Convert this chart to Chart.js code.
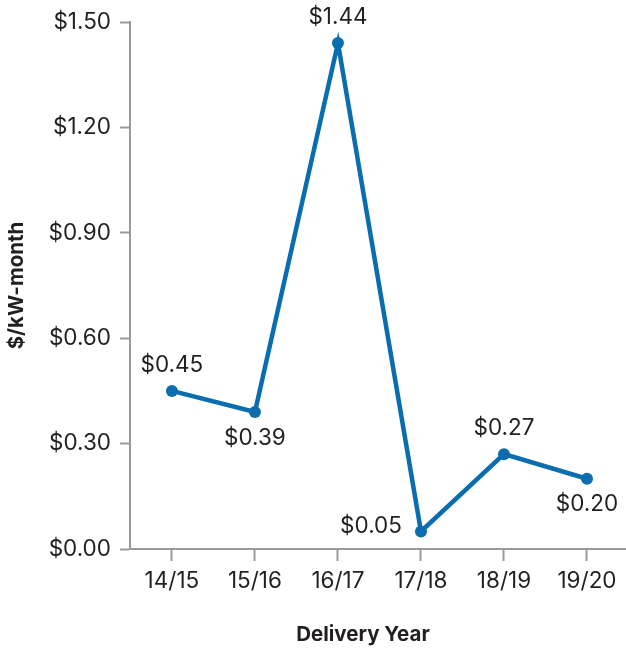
<!DOCTYPE html>
<html>
<head>
<meta charset="utf-8">
<script src="https://cdn.jsdelivr.net/npm/chart.js@4"></script>
<style>
  body { margin: 0; background: #fff; }
  #wrap { width: 626px; height: 648px; }
</style>
</head>
<body>
<div id="wrap"><canvas id="myChart" width="626" height="648"></canvas></div>
<script>
// Capacity price by delivery year
var categories = ['14/15', '15/16', '16/17', '17/18', '18/19', '19/20'];
var prices = [0.45, 0.39, 1.44, 0.05, 0.27, 0.20];
var yTicks = [0, 0.3, 0.6, 0.9, 1.2, 1.5];
// where each value label sits relative to its point
var labelSide = ['above', 'below', 'above', 'left', 'above', 'below'];

var FONT = 'Inter, "Liberation Sans", Arial, sans-serif';
var TEXT = '#231f20';
var GREY = '#9a9a9a';
var BLUE = '#0a6db0';

function money(v) { return '$' + v.toFixed(2); }

// value labels next to each point
var valueLabels = {
    id: 'valueLabels',
    afterDatasetsDraw: function(chart) {
        var ctx = chart.ctx;
        var meta = chart.getDatasetMeta(0);
        ctx.save();
        ctx.font = '22.5px ' + FONT;
        ctx.fillStyle = TEXT;
        ctx.textBaseline = 'middle';
        meta.data.forEach(function(pt, i) {
            var side = labelSide[i];
            var txt = money(prices[i]);
            if (side === 'left') {
                ctx.textAlign = 'right';
                ctx.fillText(txt, pt.x - 19, pt.y - 5);
            } else {
                ctx.textAlign = 'center';
                ctx.fillText(txt, pt.x, side === 'above' ? pt.y - 26 : pt.y + 26);
            }
        });
        ctx.restore();
    }
};

// x axis title, placed a little left of the plot centre like the original
var xTitle = {
    id: 'xTitle',
    afterDraw: function(chart) {
        var ctx = chart.ctx;
        ctx.save();
        ctx.font = 'bold 20.5px ' + FONT;
        ctx.fillStyle = TEXT;
        ctx.textAlign = 'center';
        ctx.textBaseline = 'middle';
        ctx.fillText('Delivery Year', 363, 635);
        ctx.restore();
    }
};

var ctx = document.getElementById('myChart').getContext('2d');

var myChart = new Chart(ctx, {
    type: 'line',
    data: {
        datasets: [{
            data: prices.map(function(v, i) { return { x: i, y: v }; }),
            borderColor: BLUE,
            backgroundColor: BLUE,
            borderWidth: 4.5,
            pointRadius: 6,
            pointHoverRadius: 6,
            pointBackgroundColor: BLUE,
            pointBorderWidth: 0,
            tension: 0,
            clip: false
        }]
    },
    options: {
        responsive: false,
        animation: false,
        layout: { autoPadding: false, padding: { top: 22, right: 0, left: 0, bottom: 0 } },
        plugins: {
            legend: { display: false },
            tooltip: { enabled: false }
        },
        scales: {
            x: {
                type: 'linear',
                min: -0.505,
                max: 5.47,
                afterBuildTicks: function(axis) {
                    axis.ticks = categories.map(function(c, i) { return { value: i }; });
                },
                afterFit: function(axis) {
                    axis.height = 99;
                    axis.paddingLeft = 0;
                    axis.paddingRight = 0;
                },
                border: { color: GREY, width: 2 },
                grid: {
                    drawOnChartArea: false,
                    drawTicks: true,
                    tickLength: 12,
                    tickWidth: 2,
                    tickColor: GREY
                },
                ticks: {
                    color: TEXT,
                    font: { family: FONT, size: 22.5 },
                    padding: 7,
                    maxRotation: 0,
                    callback: function(v) { return categories[v]; }
                }
            },
            y: {
                min: 0,
                max: 1.5,
                afterBuildTicks: function(axis) {
                    axis.ticks = yTicks.map(function(v) { return { value: v }; });
                },
                afterFit: function(axis) {
                    axis.width = 130;
                    axis.paddingTop = 0;
                    axis.paddingBottom = 0;
                },
                border: { color: GREY, width: 2 },
                grid: {
                    drawOnChartArea: false,
                    drawTicks: true,
                    tickLength: 10,
                    tickWidth: 2,
                    tickColor: GREY
                },
                ticks: {
                    color: TEXT,
                    font: { family: FONT, size: 22.5 },
                    padding: 9,
                    callback: function(v) { return money(v); }
                },
                title: {
                    display: true,
                    text: '$/kW-month',
                    color: TEXT,
                    font: { family: FONT, size: 20.5, weight: 'bold' },
                    padding: { top: 5, bottom: 0 }
                }
            }
        }
    },
    plugins: [valueLabels, xTitle]
});
</script>
</body>
</html>
